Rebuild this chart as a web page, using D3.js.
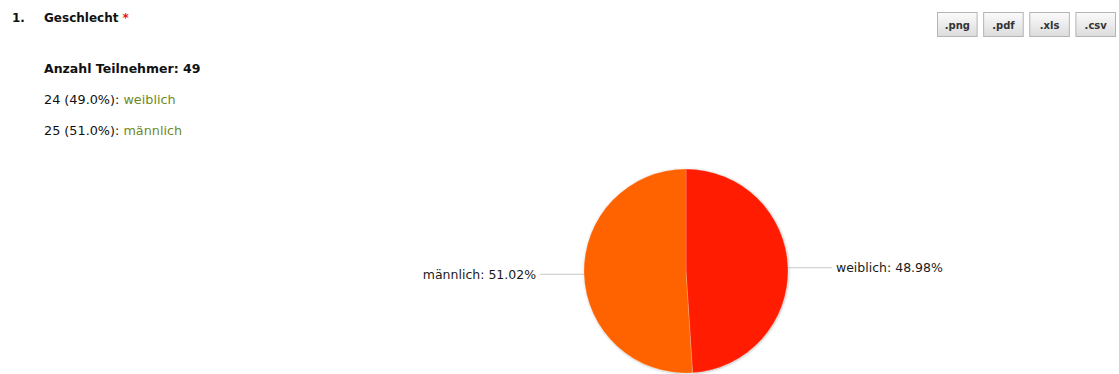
<!DOCTYPE html>
<html>
<head>
<meta charset="utf-8">
<script src="https://cdn.jsdelivr.net/npm/d3@7"></script>
<style>
  body { margin: 0; background: #fff; }
  svg { display: block; }
  .head { font-family: "DejaVu Sans", Verdana, sans-serif; fill: #111; }
</style>
</head>
<body>
<div id="chart"></div>
<script>
const questionNo = "1.";
const questionTitle = "Geschlecht";
const categories = ["weiblich", "männlich"];
const counts = [24, 25];
const sliceColors = ["#ff1e00", "#ff6300"];
const exportFormats = [".png", ".pdf", ".xls", ".csv"];

const width = 1119, height = 374;
const total = d3.sum(counts);

const svg = d3.select("#chart").append("svg")
    .attr("width", width)
    .attr("height", height);

const defs = svg.append("defs");
const grad = defs.append("linearGradient")
    .attr("id", "btn")
    .attr("x1", 0).attr("y1", 0).attr("x2", 0).attr("y2", 1);
grad.append("stop").attr("offset", "0%").attr("stop-color", "#fbfbfb");
grad.append("stop").attr("offset", "100%").attr("stop-color", "#dcdcdc");

const shadow = defs.append("filter").attr("id", "shadow")
    .attr("x", "-10%").attr("y", "-10%").attr("width", "120%").attr("height", "120%");
shadow.append("feDropShadow")
    .attr("dx", 0.5).attr("dy", 0.5).attr("stdDeviation", 0.8)
    .attr("flood-color", "#000").attr("flood-opacity", 0.35);

// header texts
svg.append("text").attr("class", "head")
    .attr("x", 12).attr("y", 22)
    .style("font-size", "12px").style("font-weight", "bold")
    .text(questionNo);

const title = svg.append("text").attr("class", "head")
    .attr("x", 44).attr("y", 22)
    .style("font-size", "12px").style("font-weight", "bold");
title.append("tspan").text(questionTitle);
title.append("tspan").attr("fill", "#e8141a").attr("dx", 4).text("*");

svg.append("text").attr("class", "head")
    .attr("x", 44).attr("y", 73)
    .style("font-size", "12.5px").style("font-weight", "bold")
    .text("Anzahl Teilnehmer: " + total);

categories.forEach((c, i) => {
    const t = svg.append("text").attr("class", "head")
        .attr("x", 44).attr("y", 104 + i * 31)
        .style("font-size", "12.8px");
    t.append("tspan").text(`${counts[i]} (${(counts[i] / total * 100).toFixed(1)}%): `);
    t.append("tspan").attr("fill", "#6e8a25").text(c);
});

// export buttons
const btnX = d3.scaleBand()
    .domain(exportFormats)
    .range([937, 1116])
    .paddingInner(0.12);

const btns = svg.append("g").selectAll("g")
    .data(exportFormats)
    .join("g")
    .attr("transform", d => `translate(${btnX(d)},12)`);

btns.append("rect")
    .attr("x", 0.5).attr("y", 0.5)
    .attr("width", btnX.bandwidth() - 1).attr("height", 24)
    .attr("fill", "url(#btn)")
    .attr("stroke", "#b4b4b4");

btns.append("text")
    .attr("x", btnX.bandwidth() / 2).attr("y", 17)
    .attr("text-anchor", "middle")
    .style("font-family", "\"DejaVu Sans\", Verdana, sans-serif")
    .style("font-size", "10px")
    .style("font-weight", "bold")
    .attr("fill", "#333")
    .text(d => d);

// pie
const cx = 686, cy = 271, r = 102;
const pie = d3.pie().sort(null).value(d => d);
const arcs = pie(counts);
const arc = d3.arc().innerRadius(0).outerRadius(r);

const g = svg.append("g").attr("transform", `translate(${cx},${cy})`);

g.append("g").attr("filter", "url(#shadow)")
    .selectAll("path")
    .data(arcs)
    .join("path")
    .attr("d", arc)
    .attr("fill", (d, i) => sliceColors[i])
    .attr("stroke", "#ffffff")
    .attr("stroke-opacity", 0.35)
    .attr("stroke-width", 0.6);

const lineLen = 44;
arcs.forEach((d, i) => {
    const a = (d.startAngle + d.endAngle) / 2;
    const ex = Math.sin(a) * r, ey = -Math.cos(a) * r;
    const side = ex >= 0 ? 1 : -1;
    const lx = ex + side * lineLen;
    g.append("line")
        .attr("x1", ex).attr("y1", ey)
        .attr("x2", lx).attr("y2", ey)
        .attr("stroke", "#c8c8c8")
        .attr("stroke-width", 1);
    g.append("text")
        .attr("x", lx + side * 4)
        .attr("y", ey + 4.5)
        .attr("text-anchor", side > 0 ? "start" : "end")
        .style("font-family", "\"DejaVu Sans\", Verdana, sans-serif")
        .style("font-size", "12.5px")
        .attr("fill", "#1a1a1a")
        .text(`${categories[i]}: ${(counts[i] / total * 100).toFixed(2)}%`);
});
</script>
</body>
</html>
